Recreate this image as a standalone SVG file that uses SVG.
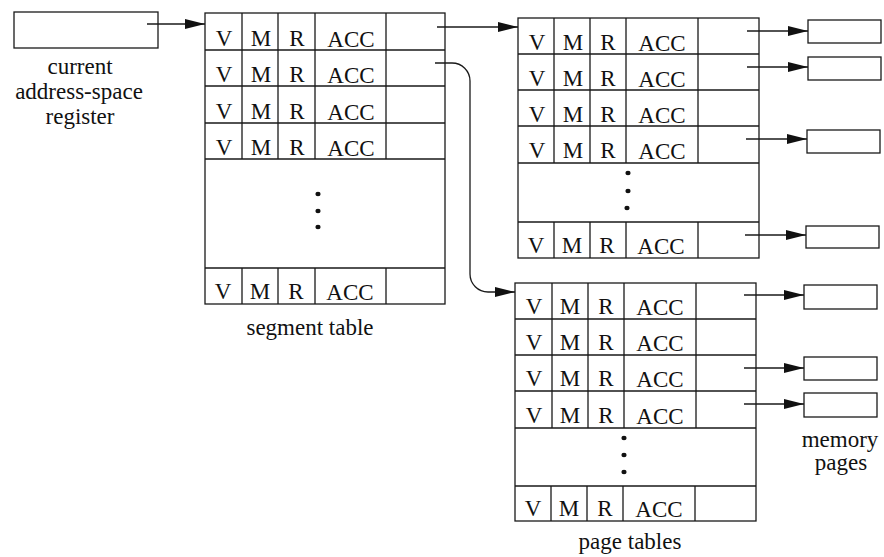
<svg xmlns="http://www.w3.org/2000/svg" width="884" height="557" viewBox="0 0 884 557">
<style>
.b{fill:none;stroke:#1a1a1a;stroke-width:1.3}
.t{font-family:"Liberation Serif","Times New Roman",serif;font-size:23px;fill:#111;text-anchor:middle}
.l{font-family:"Liberation Serif","Times New Roman",serif;font-size:23px;fill:#111;text-anchor:middle}
.c{fill:none;stroke:#1a1a1a;stroke-width:1.3}
.d{fill:#111}
</style>
<defs>
<marker id="ah" markerUnits="userSpaceOnUse" markerWidth="20" markerHeight="10" refX="20" refY="5" orient="auto">
<path d="M0,0 L20,5 L0,10 z" fill="#111"/>
</marker>
</defs>
<rect width="884" height="557" fill="#fff"/>

<g id="register">
<rect class="b" x="14" y="12" width="144" height="36"/>
<text class="l" x="80" y="74">current</text>
<text class="l" x="79" y="99">address-space</text>
<text class="l" x="80" y="124">register</text>
</g>

<g id="segment-table">
<rect class="b" x="205" y="13" width="240" height="291"/>
<path class="b" d="M205,50 H445 M205,86 H445 M205,123 H445 M205,159 H445 M205,268 H445"/>
<path class="b" d="M242,13 V159 M278,13 V159 M315,13 V159 M386,13 V159 M242,268 V304 M278,268 V304 M315,268 V304 M386,268 V304"/>
<g class="t">
<text x="224" y="46">V</text><text x="261" y="46">M</text><text x="297" y="46">R</text><text x="351" y="47">ACC</text>
<text x="224" y="82">V</text><text x="261" y="82">M</text><text x="297" y="82">R</text><text x="351" y="83">ACC</text>
<text x="224" y="119">V</text><text x="261" y="119">M</text><text x="297" y="119">R</text><text x="351" y="120">ACC</text>
<text x="224" y="155">V</text><text x="261" y="155">M</text><text x="297" y="155">R</text><text x="351" y="156">ACC</text>
<text x="223" y="299">V</text><text x="260" y="299">M</text><text x="296" y="299">R</text><text x="350" y="300">ACC</text>
</g>
<ellipse class="d" cx="318" cy="194" rx="2.6" ry="2.2"/>
<ellipse class="d" cx="318" cy="211" rx="2.6" ry="2.2"/>
<ellipse class="d" cx="318" cy="227" rx="2.6" ry="2.2"/>
<text class="l" x="310" y="335">segment table</text>
</g>

<g id="page-table-1">
<rect class="b" x="518" y="18" width="241" height="240"/>
<path class="b" d="M518,54 H759 M518,90 H759 M518,126 H759 M518,163 H759 M518,222 H759"/>
<path class="b" d="M554,18 V163 M590,18 V163 M626,18 V163 M698,18 V163 M554,222 V258 M590,222 V258 M626,222 V258 M698,222 V258"/>
<g class="t">
<text x="537" y="50">V</text><text x="573" y="50">M</text><text x="608" y="50">R</text><text x="662" y="51">ACC</text>
<text x="537" y="86">V</text><text x="573" y="86">M</text><text x="608" y="86">R</text><text x="662" y="87">ACC</text>
<text x="537" y="122">V</text><text x="573" y="122">M</text><text x="608" y="122">R</text><text x="662" y="123">ACC</text>
<text x="537" y="158">V</text><text x="573" y="158">M</text><text x="608" y="158">R</text><text x="662" y="159">ACC</text>
<text x="536" y="253">V</text><text x="572" y="253">M</text><text x="607" y="253">R</text><text x="661" y="254">ACC</text>
</g>
<ellipse class="d" cx="628" cy="173" rx="2.6" ry="2.2"/>
<ellipse class="d" cx="628" cy="191" rx="2.6" ry="2.2"/>
<ellipse class="d" cx="627" cy="208" rx="2.6" ry="2.2"/>
</g>

<g id="page-table-2">
<rect class="b" x="515" y="283" width="241" height="238"/>
<path class="b" d="M515,319 H756 M515,355 H756 M515,391 H756 M515,428 H756 M515,486 H756"/>
<path class="b" d="M552,283 V428 M588,283 V428 M624,283 V428 M696,283 V428 M551,486 V521 M587,486 V521 M623,486 V521 M695,486 V521"/>
<g class="t">
<text x="534" y="314">V</text><text x="570" y="314">M</text><text x="606" y="314">R</text><text x="660" y="315">ACC</text>
<text x="534" y="350">V</text><text x="570" y="350">M</text><text x="606" y="350">R</text><text x="660" y="351">ACC</text>
<text x="534" y="386">V</text><text x="570" y="386">M</text><text x="606" y="386">R</text><text x="660" y="387">ACC</text>
<text x="534" y="423">V</text><text x="570" y="423">M</text><text x="606" y="423">R</text><text x="660" y="424">ACC</text>
<text x="533" y="516">V</text><text x="569" y="516">M</text><text x="605" y="516">R</text><text x="659" y="517">ACC</text>
</g>
<ellipse class="d" cx="624" cy="438" rx="2.6" ry="2.2"/>
<ellipse class="d" cx="624" cy="455" rx="2.6" ry="2.2"/>
<ellipse class="d" cx="624" cy="472" rx="2.6" ry="2.2"/>
<text class="l" x="630" y="549">page tables</text>
</g>

<g id="memory-pages">
<rect class="b" x="808" y="20" width="73" height="23"/>
<rect class="b" x="808" y="57" width="73" height="23"/>
<rect class="b" x="807" y="130" width="73" height="23"/>
<rect class="b" x="806" y="226" width="73" height="22"/>
<rect class="b" x="804" y="285" width="73" height="24"/>
<rect class="b" x="804" y="357" width="73" height="23"/>
<rect class="b" x="804" y="393" width="73" height="24"/>
<text class="l" x="840" y="447">memory</text>
<text class="l" x="841" y="470">pages</text>
</g>

<g id="connectors">
<path class="c" d="M147,24 H205" marker-end="url(#ah)"/>
<path class="c" d="M437,27 H518" marker-end="url(#ah)"/>
<path class="c" d="M435,63 H452 A18,18 0 0 1 470,81 V274 A18,18 0 0 0 488,292 H515" marker-end="url(#ah)"/>
<path class="c" d="M747,31 H808" marker-end="url(#ah)"/>
<path class="c" d="M747,67 H808" marker-end="url(#ah)"/>
<path class="c" d="M746,139 H807" marker-end="url(#ah)"/>
<path class="c" d="M745,235 H806" marker-end="url(#ah)"/>
<path class="c" d="M744,295 H804" marker-end="url(#ah)"/>
<path class="c" d="M744,368 H804" marker-end="url(#ah)"/>
<path class="c" d="M744,404 H804" marker-end="url(#ah)"/>
</g>
</svg>
